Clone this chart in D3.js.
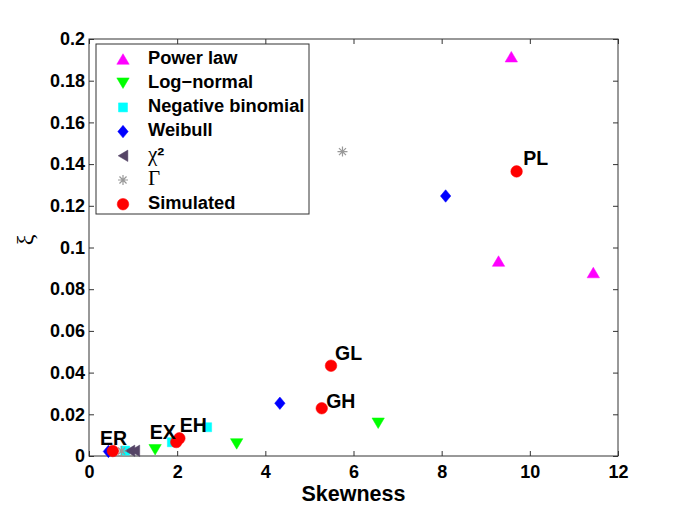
<!DOCTYPE html>
<html>
<head>
<meta charset="utf-8">
<script src="https://cdn.jsdelivr.net/npm/d3@7"></script>
<style>
  html, body { margin: 0; padding: 0; background: #fff; }
  svg { display: block; }
  text { font-family: "Liberation Sans", Arial, Helvetica, sans-serif; font-weight: bold; fill: #000; }
</style>
</head>
<body>
<svg id="chart" width="685" height="514"></svg>
<script>
// ---- Data (skewness, xi) ----
const powerLaw   = [[9.58, 0.1915], [9.29, 0.0935], [11.44, 0.0880]];
const logNormal  = [[1.50, 0.0030], [3.35, 0.0058], [6.56, 0.0157]];
const negBinom   = [[0.82, 0.0026], [1.88, 0.0066], [2.68, 0.0138]];
const weibull    = [[0.44, 0.0022], [4.33, 0.0253], [8.09, 0.1247]];
const chi2       = [[0.93, 0.0025], [1.04, 0.0025]];
const gammaD     = [[0.74, 0.0024], [5.75, 0.1460]];
const simulated  = [[0.54, 0.0024], [1.98, 0.0067], [2.05, 0.0085], [5.28, 0.0229], [5.49, 0.0433], [9.70, 0.1365]];
const simLabels  = [
  {text: "ER", x: 0.25, y: 0.0079},
  {text: "EX", x: 1.38, y: 0.0108},
  {text: "EH", x: 2.06, y: 0.0141},
  {text: "GH", x: 5.38, y: 0.0257},
  {text: "GL", x: 5.58, y: 0.0484},
  {text: "PL", x: 9.85, y: 0.1420}
];
const xTicks = [0, 2, 4, 6, 8, 10, 12];
const yTicks = [0, 0.02, 0.04, 0.06, 0.08, 0.1, 0.12, 0.14, 0.16, 0.18, 0.2];
const seriesNames = ["Power law", "Log\u2212normal", "Negative binomial", "Weibull", "\u03C7", "\u0393", "Simulated"];

// ---- Layout ----
const svg = d3.select("#chart");
const L = 89, R = 618, T = 39, B = 456;
const x = d3.scaleLinear().domain([0, 12]).range([L, R]);
const y = d3.scaleLinear().domain([0, 0.2]).range([B, T]);

// ---- Marker shapes ----
const shapes = {
  triUp:   s => `M0,${-s*0.85}L${s},${s*0.85}L${-s},${s*0.85}Z`,
  triDown: s => `M0,${s*0.85}L${s},${-s*0.85}L${-s},${-s*0.85}Z`,
  triLeft: s => `M${-s*0.85},0L${s*0.85},${-s}L${s*0.85},${s}Z`,
  square:  s => `M${-s},${-s}H${s}V${s}H${-s}Z`,
  diamond: s => `M0,${-s*1.2}L${s},0L0,${s*1.2}L${-s},0Z`,
  star:    s => {
    let p = "";
    for (let i = 0; i < 4; i++) {
      const a = i * Math.PI / 4;
      p += `M${-s*Math.cos(a)},${-s*Math.sin(a)}L${s*Math.cos(a)},${s*Math.sin(a)}`;
    }
    return p;
  },
  circle:  s => `M${s},0A${s},${s} 0 1,1 ${-s},0A${s},${s} 0 1,1 ${s},0Z`
};

const series = [
  {name: seriesNames[0], data: powerLaw,  shape: "triUp",   size: 6.2, color: "#ff00ff"},
  {name: seriesNames[1], data: logNormal, shape: "triDown", size: 6.2, color: "#00ff00"},
  {name: seriesNames[2], data: negBinom,  shape: "square",  size: 4.5, color: "#00ffff"},
  {name: seriesNames[3], data: weibull,   shape: "diamond", size: 5.2, color: "#0000ff"},
  {name: seriesNames[4], data: chi2,      shape: "triLeft", size: 5.7, color: "#554466"},
  {name: seriesNames[5], data: gammaD,    shape: "star",    size: 5,   color: "#999999", stroke: true},
  {name: seriesNames[6], data: simulated, shape: "circle",  size: 5.8, color: "#ff0000"}
];

// ---- Axes box and ticks ----
const g = svg.append("g");
g.append("rect").attr("x", L).attr("y", T).attr("width", R - L).attr("height", B - T)
  .attr("fill", "#fff").attr("stroke", "#333").attr("stroke-width", 1);

const tickLen = 5;
const axB = d3.axisBottom(x).tickValues(xTicks).tickSize(-tickLen).tickFormat(d3.format("d")).tickPadding(9);
const axT = d3.axisTop(x).tickValues(xTicks).tickSize(-tickLen).tickFormat("");
const axLf = d3.axisLeft(y).tickValues(yTicks).tickSize(-tickLen).tickPadding(4).tickFormat(d => d === 0 ? "0" : d3.format("")(+d.toFixed(2)));
const axRt = d3.axisRight(y).tickValues(yTicks).tickSize(-tickLen).tickFormat("");

function styleAxis(sel) {
  sel.select(".domain").remove();
  sel.selectAll(".tick line").attr("stroke", "#333");
  sel.selectAll(".tick text").style("font-size", "18px").style("font-weight", "bold")
    .style("font-family", '"Liberation Sans", Arial, sans-serif').attr("fill", "#000");
}
g.append("g").attr("transform", `translate(0,${B})`).call(axB).call(styleAxis);
g.append("g").attr("transform", `translate(0,${T})`).call(axT).call(styleAxis);
g.append("g").attr("transform", `translate(${L},0)`).call(axLf).call(styleAxis);
g.append("g").attr("transform", `translate(${R},0)`).call(axRt).call(styleAxis);

// ---- Axis labels ----
svg.append("text").attr("x", (L + R) / 2).attr("y", 501).attr("text-anchor", "middle")
  .style("font-size", "21.5px").text("Skewness");
svg.append("text").attr("transform", "translate(33,240) rotate(-90)").attr("text-anchor", "middle")
  .style("font-family", '"Liberation Serif", "Times New Roman", serif').style("font-weight", "normal")
  .style("font-size", "24px").text("\u03BE");

// ---- Points ----
function drawMarker(sel, s) {
  sel.attr("d", shapes[s.shape](s.size));
  if (s.stroke) sel.attr("fill", "none").attr("stroke", s.color).attr("stroke-width", 1.2);
  else sel.attr("fill", s.color).attr("stroke", s.color).attr("stroke-width", 0.5);
}
series.forEach(s => {
  g.append("g").selectAll("path").data(s.data).join("path")
    .attr("transform", d => `translate(${x(d[0])},${y(d[1])})`)
    .each(function() { drawMarker(d3.select(this), s); });
});

// ---- Point labels ----
g.append("g").selectAll("text").data(simLabels).join("text")
  .attr("x", d => x(d.x)).attr("y", d => y(d.y)).attr("dominant-baseline", "middle")
  .style("font-size", "19.5px").text(d => d.text);

// ---- Legend ----
const lg = svg.append("g");
lg.append("rect").attr("x", 96).attr("y", 44).attr("width", 213).attr("height", 170)
  .attr("fill", "#fff").attr("stroke", "#333").attr("stroke-width", 1);
series.forEach((s, i) => {
  const yy = 59 + i * 24.2;
  lg.append("path").attr("transform", `translate(123,${yy})`).call(sel => drawMarker(sel, s));
  const t = lg.append("text").attr("x", 148).attr("y", yy).attr("dominant-baseline", "middle")
    .style("font-size", "18.3px");
  if (i === 4) {
    t.style("font-family", '"Liberation Serif", "Times New Roman", serif').style("font-weight", "normal")
      .style("font-size", "21px").text(s.name);
    t.append("tspan").style("font-size", "21px")
      .style("font-family", '"Liberation Sans", Arial, sans-serif').style("font-weight", "bold").text("\u00B2");
  } else if (i === 5) {
    t.style("font-family", '"Liberation Serif", "Times New Roman", serif').style("font-weight", "normal")
      .style("font-size", "21px").text(s.name);
  } else {
    t.text(s.name);
  }
});
</script>
</body>
</html>
